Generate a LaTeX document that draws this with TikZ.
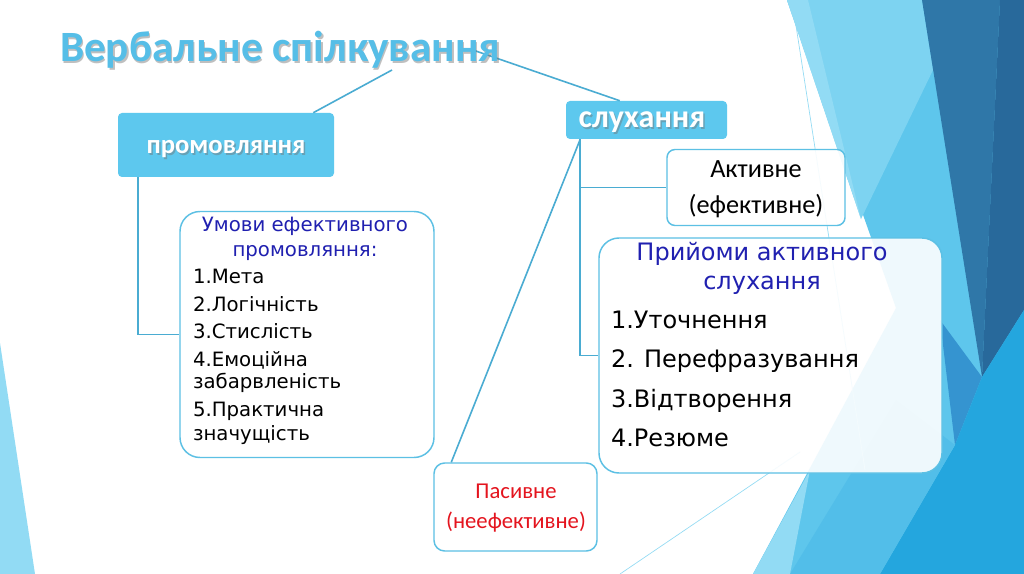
\documentclass[tikz,border=0pt]{standalone}
\usepackage{fontspec}
\setmainfont{DejaVu Sans}
\newfontfamily\calfont{Carlito}
\definecolor{hdrfill}{RGB}{93,200,238}
\definecolor{titlec}{RGB}{86,190,231}
\definecolor{bordc}{RGB}{92,192,228}
\definecolor{connc}{RGB}{74,172,210}
\definecolor{navyc}{RGB}{32,32,176}
\definecolor{redc}{RGB}{228,20,30}
\definecolor{fLa}{RGB}{146,219,244}
\definecolor{fLb}{RGB}{125,211,241}
\definecolor{fMid}{RGB}{94,198,236}
\definecolor{fDark}{RGB}{47,119,168}
\definecolor{fDarker}{RGB}{40,105,155}
\definecolor{fMed}{RGB}{53,148,208}
\definecolor{fBright}{RGB}{36,166,222}
\definecolor{fBot}{RGB}{82,190,233}
\def\pxu{0.75pt}
\tikzset{
  hdrbox/.style={fill=hdrfill, rounded corners=3pt, inner sep=0pt, draw=none},
  wbox/.style={draw=bordc, line width=1.1pt, fill=white, fill opacity=0.9, inner sep=0pt},
  conn/.style={draw=connc, line width=1.2pt},
  thinl/.style={draw=fLa, line width=0.5pt},
  tx/.style={inner sep=0pt, outer sep=0pt},
  smalltx/.style={tx, font=\fontsize{14.8}{17}\selectfont},
  bigtx/.style={tx, font=\fontsize{18}{21}\selectfont},
  caltx/.style={tx, font=\calfont\fontsize{19.7}{22}\selectfont},
  pastx/.style={tx, text=redc, font=\calfont\fontsize{17}{20}\selectfont},
  hdrtx/.style={tx, text=white, font=\calfont\bfseries\fontsize{20}{24}\selectfont},
  shadowtx/.style={tx, text=black!55, opacity=0.45},
}
\begin{document}
\begin{tikzpicture}[x=0.75pt,y=-0.75pt]
\path[use as bounding box] (0,0) rectangle (1024,574);
\fill[white] (0,0) rectangle (1024,574);
% background facets
\fill[fMid] (787,0) -- (1024,0) -- (1024,574) -- (753,574) -- (896,308) -- cycle;
\fill[fLb] (787,0) -- (922,0) -- (933,70) -- (861,219) -- cycle;
\fill[fLa] (787,0) -- (808,0) -- (861,219) -- cycle;
\fill[fDark] (922,0) -- (1000,0) -- (982,377) -- cycle;
\fill[fDarker] (1000,0) -- (1024,0) -- (1024,310) -- (982,377) -- cycle;
\fill[fMed] (940,320) -- (982,377) -- (955,445) -- cycle;
\fill[fBright] (982,377) -- (1024,310) -- (1024,574) -- (880,574) -- (955,445) -- cycle;
\fill[fBot] (790,574) -- (880,574) -- (955,445) -- (896,400) -- cycle;
\fill[fLa] (753,574) -- (810,470) -- (790,574) -- cycle;
\fill[fLa] (0,343) -- (35,574) -- (0,574) -- cycle;
\draw[thinl] (792,0) -- (865,470);
\draw[thinl] (620,574) -- (800,452);

% boxes
\node[hdrbox, minimum width=216*\pxu, minimum height=64*\pxu] (pro) at (226,145) {};
\node[hdrbox, minimum width=161*\pxu, minimum height=38*\pxu] (sl) at (646.5,120) {};
\node[wbox, rounded corners=15pt, minimum width=254*\pxu, minimum height=246*\pxu] (umovy) at (307,334.5) {};
\node[wbox, rounded corners=6pt, minimum width=178*\pxu, minimum height=76*\pxu] (akt) at (756,187.5) {};
\node[wbox, rounded corners=15pt, minimum width=343*\pxu, minimum height=235*\pxu] (pryi) at (770.5,355.5) {};
\node[wbox, rounded corners=8pt, minimum width=163*\pxu, minimum height=88*\pxu] (pas) at (515.5,507) {};

% connectors
\coordinate (tl) at (392,70);
\coordinate (tr) at (470,49);
\coordinate (sd) at ([xshift=14.5*\pxu]sl.south west);
\coordinate (pd) at ([xshift=20.5*\pxu]pro.south west);
\draw[conn] (tl) -- ([xshift=-21*\pxu]pro.north east);
\draw[conn] (tr) -- ([xshift=54*\pxu]sl.north west);
\draw[conn] (pd) |- (umovy.west);
\draw[conn] (sd) |- (pryi.west);
\draw[conn] (sd) |- (akt.west);
\draw[conn] (sd) -- ([xshift=18*\pxu]pas.north west);

% title
\node[shadowtx, anchor=base west, font=\calfont\bfseries\fontsize{32.4}{36}\selectfont] (tsh) at (61.5,63.5) {Вербальне спілкування};
\node[tx, anchor=base west, text=titlec, font=\calfont\bfseries\fontsize{32.4}{36}\selectfont] (t) at (60,62) {Вербальне спілкування};

% header texts
\node[shadowtx, anchor=base, font=\calfont\bfseries\fontsize{20}{24}\selectfont] (prosh) at (227.5,155.5) {промовляння};
\node[hdrtx, anchor=base] (protx) at (226,154) {промовляння};
\node[shadowtx, anchor=base, font=\calfont\bfseries\fontsize{24}{28}\selectfont] (slsh) at (643.5,129.5) {слухання};
\node[hdrtx, anchor=base, font=\calfont\bfseries\fontsize{24}{28}\selectfont] (sltx) at (642,128) {слухання};

% Umovy box text
\node[smalltx, anchor=base, text=navyc] (u1) at (305,231) {Умови ефективного};
\node[smalltx, anchor=base, text=navyc] (u2) at (305,256) {промовляння:};
\node[smalltx, anchor=base west] (u3) at (193,283) {1.Мета};
\node[smalltx, anchor=base west] (u4) at (193,311) {2.Логічність};
\node[smalltx, anchor=base west] (u5) at (193,338) {3.Стислість};
\node[smalltx, anchor=base west] (u6) at (193,366) {4.Емоційна};
\node[smalltx, anchor=base west] (u7) at (193,388) {забарвленість};
\node[smalltx, anchor=base west] (u8) at (193,416) {5.Практична};
\node[smalltx, anchor=base west] (u9) at (193,440) {значущість};

% Aktyvne
\node[caltx, anchor=base] (a1) at (756,177) {Активне};
\node[caltx, anchor=base] (a2) at (756,214) {(ефективне)};

% Pryiomy
\node[bigtx, anchor=base, text=navyc] (p1) at (762,260) {Прийоми активного};
\node[bigtx, anchor=base, text=navyc] (p2) at (762,289) {слухання};
\node[bigtx, anchor=base west] (p3) at (611,328) {1.Уточнення};
\node[bigtx, anchor=base west] (p4) at (611,367) {2. Перефразування};
\node[bigtx, anchor=base west] (p5) at (611,407) {3.Відтворення};
\node[bigtx, anchor=base west] (p6) at (611,446) {4.Резюме};

% Pasyvne
\node[pastx, anchor=base] (s1) at (516,498) {Пасивне};
\node[pastx, anchor=base] (s2) at (516,528) {(неефективне)};
\end{tikzpicture}
\end{document}
